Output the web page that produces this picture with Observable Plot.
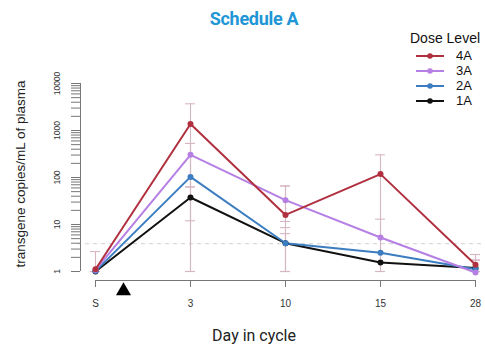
<!DOCTYPE html>
<html>
<head>
<meta charset="utf-8">
<script src="https://cdn.jsdelivr.net/npm/d3@7"></script>
<script src="https://cdn.jsdelivr.net/npm/@observablehq/plot@0.6"></script>
<style>
  html, body { margin: 0; padding: 0; background: #fff; }
  #wrap { position: relative; width: 485px; height: 353px; overflow: hidden; }
  #wrap svg.plot { position: absolute; left: 0; top: 0; }
  .ov { position: absolute; white-space: nowrap; }
  #title { left: 254px; top: 18px; transform: translate(-50%, -50%); font: bold 18px Roboto, sans-serif; color: #1f96d6; letter-spacing: -0.3px; }
  #ytitle { left: 20px; top: 174px; transform: translate(-50%, -50%) rotate(-90deg); font: 13.5px "Liberation Sans", Arial, sans-serif; color: #222; }
  #xtitle { left: 254px; top: 335px; transform: translate(-50%, -50%); font: 16px Roboto, sans-serif; color: #222; }
  #legend { left: 410px; top: 28px; font: 13px "Liberation Sans", Arial, sans-serif; color: #111; }
  #legend .head { font-size: 14px; height: 20px; line-height: 20px; margin-bottom: 0px; }
  #legend .row { height: 15px; line-height: 15px; display: flex; align-items: center; }
  #legend svg { margin-left: 6px; margin-right: 12px; }
</style>
</head>
<body>
<div id="wrap">
  <div id="title" class="ov">Schedule A</div>
  <div id="ytitle" class="ov">transgene copies/mL of plasma</div>
  <div id="xtitle" class="ov">Day in cycle</div>
  <div id="legend" class="ov"></div>
</div>
<script>
// ---- data ----
const days = ["S", "3", "10", "15", "28"];
const series = ["4A", "3A", "2A", "1A"];
const colors = ["#b0303f", "#b67fe4", "#3b7dc0", "#111111"];

const values4A = [1.12, 1370, 16, 118, 1.39];
const values3A = [1.08, 304, 33, 5.3, 0.95];
const values2A = [1.02, 103, 4.0, 2.5, 1.12];
const values1A = [1.0, 37.5, 4.0, 1.55, 1.18];

const lo4A = [1, 1, 1, 1, 1];
const hi4A = [2.66, 3700, 66, 304, 2.3];
const lo3A = [null, 63, 11.6, 1, 1];
const hi3A = [null, 530, 66, 13, 1.75];
const lo2A = [null, 1, 1, null, 1];
const hi2A = [null, 530, 8.6, null, 1.75];
const lo1A = [null, 12, 1, null, null];
const hi1A = [null, 63, 6.4, null, null];

const yMajorTicks = [1, 10, 100, 1000, 10000];
const yTickLabels = ["1", "10", "100", "1000", "10000"];
const lloq = 3.9;
const doseMarker = [{day: "S"}];

// ---- build table ----
const vals = [values4A, values3A, values2A, values1A];
const los = [lo4A, lo3A, lo2A, lo1A];
const his = [hi4A, hi3A, hi2A, hi1A];
const rows = [];
for (let i = series.length - 1; i >= 0; i--) {
  days.forEach((d, j) => rows.push({series: series[i], day: d, value: vals[i][j], lo: los[i][j], hi: his[i][j]}));
}
const errRows = rows.filter(r => r.lo != null && r.hi != null);
const yMinorTicks = [];
for (let k = 0; k < 4; k++) for (let m = 1; m < 10; m++) yMinorTicks.push(m * Math.pow(10, k));
yMinorTicks.push(10000);

const errColor = "#d6b6c3";

const plot = Plot.plot({
  width: 485,
  height: 353,
  marginTop: 83,
  marginBottom: 82,
  marginLeft: 95,
  marginRight: 10,
  style: {fontFamily: "'Liberation Sans', Arial, sans-serif", fontSize: "10px", color: "#777", background: "transparent"},
  x: {type: "point", domain: days, padding: 0},
  y: {type: "log", domain: [1, 10000]},
  color: {domain: series, range: colors},
  marks: [
    Plot.ruleY([lloq], {stroke: "#cfcfcf", strokeWidth: 1, strokeDasharray: "4,4", insetLeft: -18, insetRight: -10}),
    Plot.ruleX(errRows, {x: "day", y1: "lo", y2: "hi", stroke: errColor, strokeWidth: 1.1}),
    Plot.ruleY(errRows, {x1: "day", x2: "day", y: "lo", stroke: errColor, strokeWidth: 1.1, insetLeft: -5, insetRight: -5}),
    Plot.ruleY(errRows, {x1: "day", x2: "day", y: "hi", stroke: errColor, strokeWidth: 1.1, insetLeft: -5, insetRight: -5}),
    Plot.line(rows, {x: "day", y: "value", z: "series", stroke: "series", strokeWidth: 2}),
    Plot.dot(rows, {x: "day", y: "value", fill: "series", r: 3}),
    // axes (R base style)
    Plot.ruleX([0], {x: () => days[0], y1: () => 1, y2: () => 10000, dx: -15, stroke: "#777", strokeWidth: 1}),
    Plot.axisY({anchor: "left", ticks: yMinorTicks, tickSize: 9, dx: -15, tickFormat: () => "", stroke: "#777"}),
    Plot.text(yMajorTicks, {x: () => days[0], y: d => d, text: yTickLabels, rotate: -90, dx: -38, fontSize: 8.5, fill: "#333"}),
    Plot.ruleY([0], {y: () => 1, x1: () => days[0], x2: () => days[days.length - 1], dy: 9, stroke: "#777", strokeWidth: 1}),
    Plot.axisX({anchor: "bottom", ticks: days, tickSize: 7, tickPadding: 12, dy: 9, stroke: "#777", fill: "#333", fontSize: 10, label: null}),
    Plot.dot(doseMarker, {x: "day", y: () => 1, symbol: "triangle", r: 5.6, fill: "#000", dx: 28, dy: 19.5})
  ]
});
plot.classList.add("plot");
document.getElementById("wrap").prepend(plot);

// legend
const leg = document.getElementById("legend");
const head = document.createElement("div");
head.className = "head";
head.textContent = "Dose Level";
leg.appendChild(head);
series.forEach((s, i) => {
  const row = document.createElement("div");
  row.className = "row";
  row.innerHTML = `<svg width="28" height="10"><line x1="0" x2="28" y1="5" y2="5" stroke="${colors[i]}" stroke-width="2"/><circle cx="14" cy="5" r="2.8" fill="${colors[i]}"/></svg><span>${s}</span>`;
  leg.appendChild(row);
});
</script>
</body>
</html>
